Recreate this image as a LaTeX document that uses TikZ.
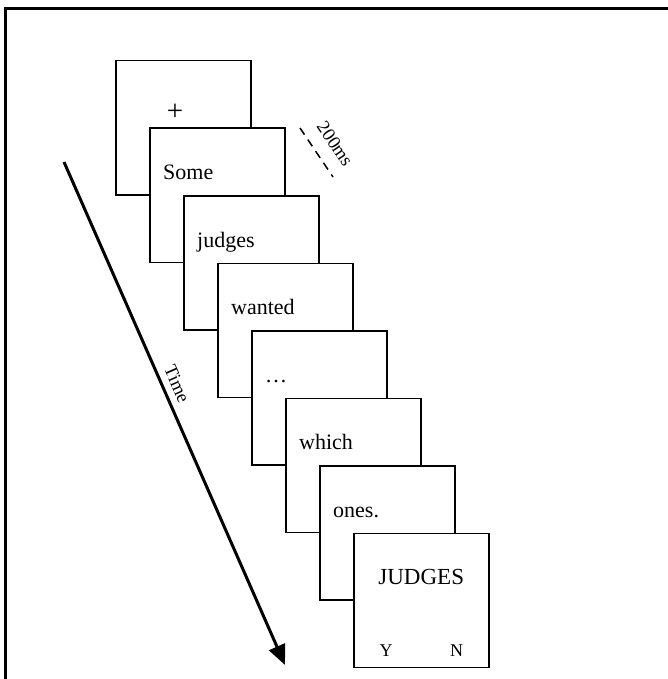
\documentclass[tikz,border=0pt]{standalone}
\usepackage{fontspec}
\setmainfont{Liberation Serif}
\usetikzlibrary{arrows.meta,calc}
\begin{document}
\begin{tikzpicture}[x=1pt,y=-1pt,
  screen/.style={draw=black, line width=1.5pt, fill=white, rectangle,
    minimum width=135pt, minimum height=134pt, anchor=north west, inner sep=0pt},
  word/.style={font=\fontsize{22}{26}\selectfont, inner sep=0pt, anchor=base west},
  key/.style={font=\fontsize{18}{22}\selectfont, inner sep=0pt, anchor=base},
  small/.style={font=\fontsize{18.5}{22}\selectfont, inner sep=0pt}]
\useasboundingbox (0,0) rectangle (667,679);
% outer frame (open at right and bottom)
\draw[line width=3pt] (5,700) -- (5,9) -- (700,9);

% stacked screens
\foreach \i [evaluate=\i as \xx using {115+34*(\i-1)},
             evaluate=\i as \yy using {60+67.5*(\i-1)}] in {1,...,8}
  \node[screen] (s\i) at (\xx,\yy) {};

% screen contents
\node[font=\fontsize{29}{32}\selectfont, inner sep=0pt] (fix) at (175,112) {+};
\node[word] (w2) at ([shift={(14pt,-52pt)}]s2.north west) {Some};
\node[word] (w3) at ([shift={(14pt,-52pt)}]s3.north west) {judges};
\node[word] (w4) at ([shift={(14pt,-52pt)}]s4.north west) {wanted};
\node[word] (w5) at ([shift={(14pt,-52pt)}]s5.north west) {\dots};
\node[word] (w6) at ([shift={(14pt,-52pt)}]s6.north west) {which};
\node[word] (w7) at ([shift={(14pt,-52pt)}]s7.north west) {ones.};
\node[word, font=\fontsize{23}{27}\selectfont, anchor=base] (probe) at ([shift={(0pt,-52pt)}]s8.north) {JUDGES};
\node[key] (yes) at ([shift={(33pt,12pt)}]s8.south west) {Y};
\node[key] (no) at ([shift={(-33pt,12pt)}]s8.south east) {N};

% duration marker
\coordinate (d1) at (300,128);
\coordinate (d2) at (333,177);
\draw[line width=1.5pt, dash pattern=on 8pt off 6pt] (d1) -- (d2);
\node[small, rotate=-56] (dur) at (335,144) {200ms};

% time axis
\coordinate (tstart) at (64,162);
\coordinate (tend) at (285,665);
\draw[line width=3pt, -{Triangle[length=20pt,width=17pt]}] (tstart) -- (tend);
\node[small, rotate=-66.3] (time) at (177,384) {Time};
\end{tikzpicture}
\end{document}
